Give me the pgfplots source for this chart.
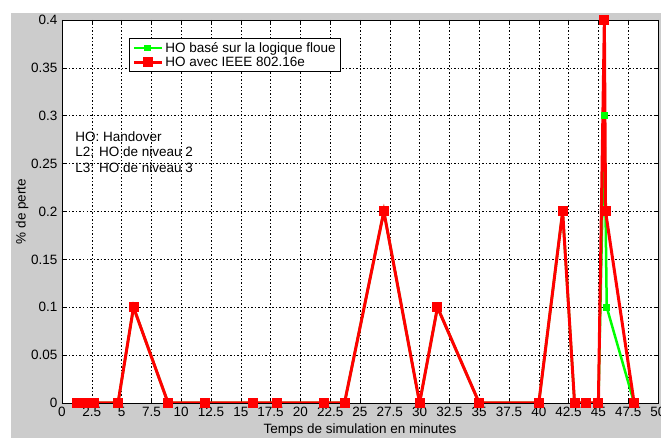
\documentclass[border=0pt]{standalone}
\usepackage{fontspec}
\setmainfont{Liberation Sans}
\usepackage{pgfplots}
\pgfplotsset{compat=1.18}

\definecolor{figgray}{RGB}{204,204,204}
\definecolor{mgreen}{RGB}{0,255,0}
\definecolor{mred}{RGB}{255,0,0}

\begin{document}
\begin{tikzpicture}[x=1pt,y=1pt]
\clip (0,0) rectangle (661,438);
\useasboundingbox (0,0) rectangle (661,438);
\fill[figgray] (11,0) rectangle (661,425);
\begin{axis}[
    at={(62pt,35pt)}, anchor=south west,
    scale only axis, width=596pt, height=383pt,
    xmin=0, xmax=50, ymin=0, ymax=0.4,
    xtick distance=2.5, ytick distance=0.05,
    axis background/.style={fill=white},
    axis line style={black, line width=0.6pt},
    tick align=inside, major tick length=4pt,
    tick style={black, line width=0.5pt},
    grid=major,
    major grid style={black, line width=0.5pt, dash pattern=on 1.5pt off 2pt},
    font=\fontsize{13.5}{15}\selectfont,
    /pgf/number format/assume math mode=true,
    /pgf/number format/.cd, fixed, precision=2, /pgfplots/.cd,
    xticklabel style={yshift=-1pt},
    yticklabel style={xshift=-1pt},
    scaled ticks=false,
    xlabel={Temps de simulation en minutes},
    ylabel={\% de perte},
    xlabel style={at={(axis description cs:0.5,0)}, anchor=center, yshift=-27pt},
    ylabel style={at={(axis description cs:-0.067,0.5)}, anchor=center},
    legend style={at={(0.1125,0.953)}, anchor=north west, draw=black,
        line width=0.6pt, fill=white, legend cell align=left,
        font=\fontsize{13.5}{14}\selectfont, row sep=-1pt, inner xsep=3pt, inner ysep=2pt},
    legend image code/.code={\draw[mark repeat=2,mark phase=2,#1]
        plot coordinates {(0pt,0pt)(14pt,0pt)(28pt,0pt)};},
]
\addplot[mgreen, line width=2.5pt, mark=square*, mark size=2.2pt,
    mark options={solid, fill=mgreen}] coordinates {
    (1.3,0)(2.0,0)(2.7,0)(4.7,0)(6,0.1)(8.9,0)(12,0)(16,0)(18,0)(22,0)
    (23.7,0)(27,0.2)(30,0)(31.5,0.1)(35,0)(40,0)(42,0.2)(43,0)(44,0)(45,0)
    (45.5,0.3)(45.7,0.1)(48,0)
};
\addlegendentry{HO basé sur la logique floue}
\addplot[mred, line width=3pt, mark=square*, mark size=3.5pt,
    mark options={solid, fill=mred}] coordinates {
    (1.3,0)(2.0,0)(2.7,0)(4.7,0)(6,0.1)(8.9,0)(12,0)(16,0)(18,0)(22,0)
    (23.7,0)(27,0.2)(30,0)(31.5,0.1)(35,0)(40,0)(42,0.2)(43,0)(44,0)(45,0)
    (45.5,0.4)(45.6,0.2)(48,0)
};
\addlegendentry{HO avec IEEE 802.16e}
\node[anchor=west, inner sep=0pt] at (axis cs:1.1,0.2778) {HO: Handover};
\node[anchor=west, inner sep=0pt] at (axis cs:1.1,0.2621) {L2: HO de niveau 2};
\node[anchor=west, inner sep=0pt] at (axis cs:1.1,0.2454) {L3: HO de niveau 3};
\end{axis}
\end{tikzpicture}
\end{document}
